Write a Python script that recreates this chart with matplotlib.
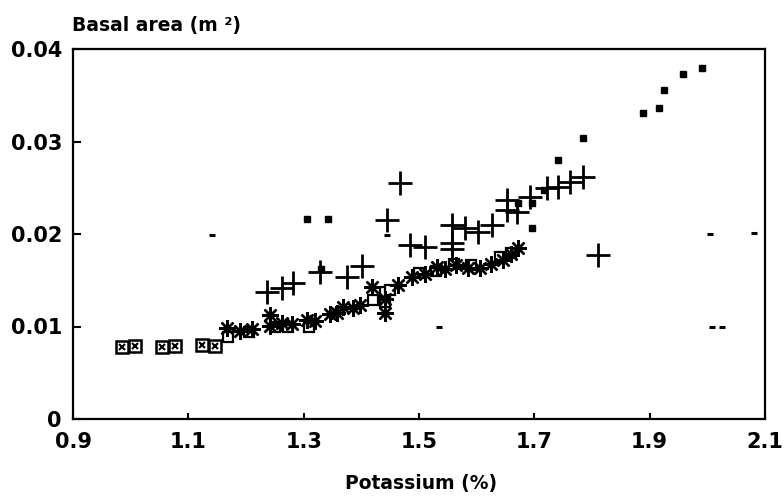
import matplotlib
matplotlib.use("Agg")
import matplotlib.pyplot as plt

# Boxed-x squares
bx_x = [0.985, 1.008, 1.054, 1.077, 1.124, 1.146]
bx_y = [0.0078, 0.0079, 0.0078, 0.0079, 0.0080, 0.0079]

# Asterisks
ast_x = [1.167, 1.19, 1.21, 1.242, 1.242, 1.262, 1.28, 1.306, 1.32, 1.345, 1.357,
         1.368, 1.385, 1.398, 1.418, 1.441, 1.441, 1.464, 1.488, 1.51, 1.531, 1.545,
         1.565, 1.585, 1.605, 1.625, 1.645, 1.66, 1.672]
ast_y = [0.0098, 0.0095, 0.0097, 0.0112, 0.0101, 0.0104, 0.0103, 0.0107, 0.0106, 0.0113, 0.0115,
         0.0121, 0.0120, 0.0123, 0.0143, 0.0115, 0.0130, 0.0145, 0.0154, 0.0157, 0.0164, 0.0162,
         0.0166, 0.0163, 0.0163, 0.0168, 0.0172, 0.0178, 0.0185]

# Open squares
sq_x = [1.169, 1.205, 1.25, 1.272, 1.31, 1.42, 1.441, 1.441, 1.45, 1.50, 1.53, 1.56, 1.59, 1.64, 1.66]
sq_y = [0.0089, 0.0094, 0.0100, 0.0099, 0.0099, 0.0129, 0.0137, 0.0126, 0.0140, 0.0158, 0.0160,
        0.0168, 0.0166, 0.0175, 0.0180]

# Plus signs
pl_x = [1.236, 1.262, 1.281, 1.328, 1.375, 1.401, 1.444, 1.467, 1.484, 1.51, 1.557, 1.557, 1.557,
        1.58, 1.602, 1.627, 1.653, 1.67, 1.653, 1.692, 1.722, 1.741, 1.762, 1.784, 1.81]
pl_y = [0.0137, 0.0142, 0.0147, 0.0159, 0.0153, 0.0165, 0.0215, 0.0255, 0.0188, 0.0186, 0.0210,
        0.0190, 0.0184, 0.0207, 0.0202, 0.0210, 0.0237, 0.0224, 0.0226, 0.0240, 0.0250, 0.0251,
        0.0256, 0.0262, 0.0177]

# Small filled squares
fs_x = [1.306, 1.342, 1.33, 1.672, 1.696, 1.717, 1.741, 1.784, 1.888, 1.916, 1.925, 1.958, 1.99, 1.696]
fs_y = [0.0216, 0.0216, 0.0162, 0.0234, 0.0233, 0.0248, 0.0280, 0.0304, 0.0331, 0.0336, 0.0356,
        0.0373, 0.0380, 0.0206]

# Tiny dashes
td_x = [1.141, 1.535, 2.005, 2.081, 2.008, 2.025, 1.444]
td_y = [0.0199, 0.0100, 0.0200, 0.0201, 0.0100, 0.0100, 0.0199]

x_ticks = [0.9, 1.1, 1.3, 1.5, 1.7, 1.9, 2.1]
x_tick_labels = ["0.9", "1.1", "1.3", "1.5", "1.7", "1.9", "2.1"]
y_ticks = [0, 0.01, 0.02, 0.03, 0.04]
y_tick_labels = ["0", "0.01", "0.02", "0.03", "0.04"]

fig = plt.figure(figsize=(7.84, 4.96), dpi=100)
ax = fig.add_axes([73 / 784, 77 / 496, 692 / 784, 370 / 496])

k = "black"
ax.plot(bx_x, bx_y, linestyle="none", marker="s", markersize=8, markerfacecolor="white",
        markeredgecolor=k, markeredgewidth=1.8)
ax.plot(bx_x, bx_y, linestyle="none", marker="x", markersize=4, markeredgecolor=k, markeredgewidth=1.5)
ax.plot(sq_x, sq_y, linestyle="none", marker="s", markersize=7, markerfacecolor="white",
        markeredgecolor=k, markeredgewidth=1.6)
ax.plot(ast_x, ast_y, linestyle="none", marker=(8, 2, 0), markersize=12, markeredgecolor=k,
        markeredgewidth=1.7)
ax.plot(pl_x, pl_y, linestyle="none", marker="+", markersize=17, markeredgecolor=k, markeredgewidth=2.0)
ax.plot(fs_x, fs_y, linestyle="none", marker="s", markersize=5, color=k)
ax.plot(td_x, td_y, linestyle="none", marker="_", markersize=4, markeredgecolor=k, markeredgewidth=2.2)

ax.set_xlim(0.9, 2.1)
ax.set_ylim(0, 0.04)
ax.set_xticks(x_ticks)
ax.set_xticklabels(x_tick_labels)
ax.set_yticks(y_ticks)
ax.set_yticklabels(y_tick_labels)
ax.tick_params(axis="both", direction="in", width=1.5, color=k)
ax.tick_params(axis="x", length=4, pad=9)
ax.tick_params(axis="y", length=6, pad=8)
for lab in ax.get_xticklabels() + ax.get_yticklabels():
    lab.set_fontfamily("DejaVu Sans")
    lab.set_fontweight("bold")
    lab.set_fontsize(15)
for s in ax.spines.values():
    s.set_linewidth(1.6)
    s.set_color(k)

fig.text(72 / 784, 1 - 25 / 496, "Basal area (m \u00b2)", fontsize=13.5, fontweight="bold",
         family="DejaVu Sans", ha="left", va="center")
fig.text(421 / 784, 1 - 484 / 496, "Potassium (%)", fontsize=13.5, fontweight="bold",
         family="DejaVu Sans", ha="center", va="center")

fig.savefig("out.png", dpi=100, facecolor="white")
